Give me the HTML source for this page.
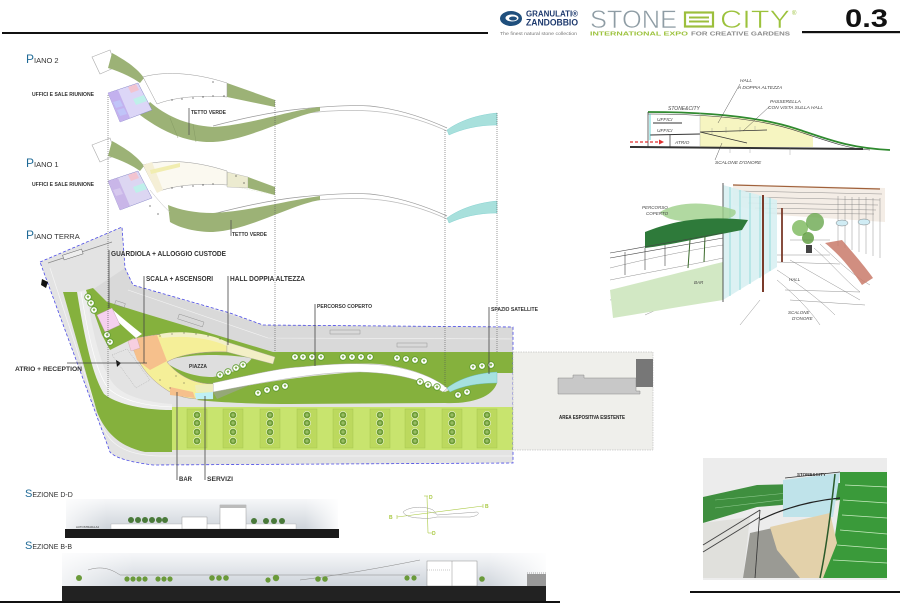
<!DOCTYPE html>
<html><head><meta charset="utf-8"><style>
html,body{margin:0;padding:0;background:#fff;}
svg{display:block;}
text{font-family:"Liberation Sans",Arial,sans-serif;}
</style></head><body>
<svg width="900" height="604" viewBox="0 0 900 604" xmlns="http://www.w3.org/2000/svg">
<defs>
<linearGradient id="sky" x1="0" y1="0" x2="0" y2="1"><stop offset="0" stop-color="#f6f7f9"/><stop offset="1" stop-color="#cdd3da"/></linearGradient>
<linearGradient id="fadeR" x1="0" y1="0" x2="1" y2="0"><stop offset="0" stop-color="#fff" stop-opacity="0.7"/><stop offset="0.15" stop-color="#fff" stop-opacity="0"/><stop offset="0.88" stop-color="#fff" stop-opacity="0"/><stop offset="1" stop-color="#fff" stop-opacity="0.9"/></linearGradient>
<symbol id="tr" viewBox="-4 -4 8 8"><circle r="3.3" fill="#fff" stroke="#5e9a2e" stroke-width="0.8"/><path d="M-1.5,-0.5 L0,-1.8 L1.5,-0.5 L0,1.5 Z" fill="#7fb04a"/></symbol>
<symbol id="pt" viewBox="-4 -4 8 8"><circle r="3.6" fill="#6c9c34" stroke="#eef7d8" stroke-width="0.6"/><path d="M-2,0 L2,0 M0,-2 L0,2" stroke="#cfe6a0" stroke-width="0.5"/></symbol>
</defs>

<!-- HEADER -->
<rect x="2" y="32" width="486" height="2" fill="#111"/>
<ellipse cx="511" cy="18.5" rx="11" ry="7.5" fill="#1f4f7d"/>
<ellipse cx="512" cy="18" rx="6.5" ry="3.5" fill="#fff"/>
<ellipse cx="513" cy="18.5" rx="4" ry="2" fill="#1f4f7d"/>
<text x="526" y="16.5" font-size="8" font-weight="bold" fill="#1e3a6e" textLength="52" lengthAdjust="spacingAndGlyphs">GRANULATI®</text>
<text x="526" y="25.5" font-size="9" font-weight="bold" fill="#1e3a6e" textLength="52" lengthAdjust="spacingAndGlyphs">ZANDOBBIO</text>
<text x="500" y="35" font-size="4.5" fill="#777" textLength="77" lengthAdjust="spacingAndGlyphs">The finest natural stone collection</text>
<text x="590" y="28" font-size="25" fill="#8e9ca4" stroke="#fff" stroke-width="0.6" textLength="87" lengthAdjust="spacingAndGlyphs">STONE</text>
<rect x="685" y="12.5" width="28" height="14" fill="none" stroke="#9cbf3c" stroke-width="2.2"/>
<rect x="689" y="16.5" width="20" height="2" fill="#9cbf3c"/>
<rect x="689" y="20.5" width="20" height="2" fill="#9cbf3c"/>
<text x="720" y="28" font-size="25" fill="#9cc23c" stroke="#fff" stroke-width="0.6" textLength="70" lengthAdjust="spacingAndGlyphs">CITY</text>
<text x="792" y="15" font-size="6" fill="#9cc23c">®</text>
<text x="590" y="35.5" font-size="5.2" font-weight="bold" fill="#9cc23c" textLength="98" lengthAdjust="spacingAndGlyphs">INTERNATIONAL EXPO</text>
<text x="691" y="35.5" font-size="5.2" font-weight="bold" fill="#8a8a8a" textLength="99" lengthAdjust="spacingAndGlyphs">FOR CREATIVE GARDENS</text>
<text x="845" y="27" font-size="25" font-weight="bold" fill="#111" textLength="43" lengthAdjust="spacingAndGlyphs">0.3</text>
<rect x="802" y="31" width="98" height="2.2" fill="#111"/>

<!-- LABELS PIANI -->
<text x="26" y="63" fill="#333"><tspan font-size="12" fill="#1f6a96">P</tspan><tspan font-size="7.5">IANO 2</tspan></text>
<text x="26" y="167" fill="#333"><tspan font-size="12" fill="#1f6a96">P</tspan><tspan font-size="7.5">IANO 1</tspan></text>
<text x="26" y="239" fill="#333"><tspan font-size="12" fill="#1f6a96">P</tspan><tspan font-size="7.5">IANO TERRA</tspan></text>
<text x="32" y="96" font-size="5.2" font-weight="bold" fill="#333" textLength="62" lengthAdjust="spacingAndGlyphs">UFFICI E SALE RIUNIONE</text>
<text x="32" y="186" font-size="5.2" font-weight="bold" fill="#333" textLength="62" lengthAdjust="spacingAndGlyphs">UFFICI E SALE RIUNIONE</text>

<!-- PIANO 2 -->
<g id="p2">
<polygon points="92,57 110,50 116,67 100,74" fill="#fff" stroke="#aaa" stroke-width="0.6"/>
<path d="M112,53 C125,60 137,68 144,78 L140,83 C130,76 118,71 108,68 Z" fill="#9cb276"/>
<path d="M213,126 C240,119 270,112 300,109 C330,106 355,105 370,106 C400,109 425,118 447,128" fill="none" stroke="#999" stroke-width="0.7"/>
<path d="M213,133 C250,125 280,117 300,114 C330,110 355,110 370,111 C400,113 425,121 447,131" fill="none" stroke="#bbb" stroke-width="0.7"/>
<path d="M447,130 C458,122 475,115 497,113 L497,125 C478,125 462,129 449,135 Z" fill="#a8e0dc" stroke="#7cc" stroke-width="0.4"/>
<polygon points="227,83 275,100 275,107 227,97" fill="#9cb276"/>
</g>
<path d="M143,77 C160,72 190,71 227,83 L227,97 C200,95 175,97 157,104 Z" fill="#fff" stroke="#999" stroke-width="0.5"/>
<path d="M150,102 C165,115 185,125 213,127 C250,125 290,110 320,107 L320,111 C290,116 250,140 213,142 C185,143 160,130 140,115 Z" fill="#9cb276"/>
<path d="M170,118 L178,138 M193,124 L196,142" stroke="#7f9660" stroke-width="0.4"/>
<polygon points="108,93 138,83 152,110 120,122" fill="#dcd6f7" stroke="#8a8ac8" stroke-width="0.5"/>
<polygon points="108,93 118,90 130,118 120,122" fill="#c3b1ee"/>
<polygon points="128,87 136,84 139,90 131,93" fill="#f2c4d0"/>
<polygon points="133,99 144,95 147,101 136,105" fill="#bff0ea"/>
<polygon points="113,102 120,100 123,106 116,108" fill="#c0c4f8"/>
<polygon points="117,110 124,108 127,114 120,116" fill="#c0c4f8"/>
<g fill="#333"><circle cx="172" cy="100" r="0.6"/><circle cx="182" cy="99" r="0.6"/><circle cx="193" cy="98" r="0.6"/><circle cx="203" cy="97" r="0.6"/><circle cx="213" cy="96" r="0.6"/><circle cx="224" cy="96" r="0.6"/><circle cx="213" cy="82" r="0.6"/></g>
<line x1="189" y1="108" x2="189" y2="135" stroke="#555" stroke-width="0.8"/>
<text x="191" y="114" font-size="5.2" font-weight="bold" fill="#333" textLength="35" lengthAdjust="spacingAndGlyphs">TETTO VERDE</text>

<!-- PIANO 1 -->
<use href="#p2" transform="translate(0,88)"/>
<polygon points="227,170 275,188 275,195 227,185" fill="#fff"/>
<polygon points="227,172 248,177 248,188 227,187" fill="#ecebd0" stroke="#aaa" stroke-width="0.4"/>
<polygon points="248,177 275,187 275,195 248,188" fill="#9cb276"/>
<path d="M143,165 C160,160 190,159 227,171 L227,185 C200,183 175,185 157,192 Z" fill="#fbf9f0" stroke="#999" stroke-width="0.5"/>
<polygon points="143,165 152,162 163,190 157,193" fill="#f5efd6"/>
<polygon points="150,170 180,163 180,167 151,174" fill="#f1edb0"/>
<path d="M168,205 C180,210 195,213 213,213 C250,211 290,200 320,196 L320,200 C290,205 250,230 213,232 C195,232 180,228 170,222 Z" fill="#9cb276"/>
<path d="M150,190 C158,200 165,208 170,212" fill="none" stroke="#bbb" stroke-width="0.5"/>
<polygon points="108,181 138,171 152,198 120,210" fill="#dcd6f2" stroke="#8a8ac8" stroke-width="0.5"/>
<polygon points="108,181 118,178 130,206 120,210" fill="#c9b6e8"/>
<polygon points="128,175 136,172 139,178 131,181" fill="#f2c4d0"/>
<polygon points="133,187 144,183 147,189 136,193" fill="#bff0ea"/>
<polygon points="113,190 120,188 123,194 116,196" fill="#d6c8ee"/>
<g fill="#333"><circle cx="172" cy="188" r="0.6"/><circle cx="182" cy="187" r="0.6"/><circle cx="193" cy="186" r="0.6"/><circle cx="203" cy="185" r="0.6"/><circle cx="213" cy="184" r="0.6"/><circle cx="150" cy="206" r="0.6"/><circle cx="158" cy="214" r="0.6"/><circle cx="236" cy="176" r="0.6"/><circle cx="244" cy="183" r="0.6"/></g>
<line x1="231" y1="220" x2="231" y2="236" stroke="#555" stroke-width="0.8"/>
<text x="232" y="236" font-size="5.2" font-weight="bold" fill="#333" textLength="35" lengthAdjust="spacingAndGlyphs">TETTO VERDE</text>

<!-- PIANO TERRA -->
<path d="M40,262 L122,227 L125,268 L133,285 L230,313 L263,325 L513,327 L513,463 L153,465 C130,462 115,458 110,452 Z" fill="#e3e3e3"/>
<path d="M125,268 L133,285 L263,325 L513,327 L513,352 L273,352 L143,313 L100,300 L92,290 Z" fill="#d9d9d9"/>
<path d="M128,290 L268,338 L513,339" fill="none" stroke="#f4f4f4" stroke-width="0.6"/>
<path d="M50,268 L100,420 C108,445 125,455 160,456 L512,456" fill="none" stroke="#f5f5f5" stroke-width="0.7"/>
<path d="M48,263 L112,242" stroke="#888" stroke-width="0.7"/>
<rect x="63" y="252" width="20" height="5" fill="#eee" stroke="#666" stroke-width="0.5" transform="rotate(-18 73 255)"/>
<!-- inner curved road (lighter) -->
<path d="M77,292 L86,290 C92,330 100,365 112,382 C122,396 145,402 172,404 L172,410 C145,410 118,405 104,394 C92,375 84,335 77,292 Z" fill="#ececec"/>
<path d="M81,292 C88,335 96,372 108,388 C120,400 145,406 172,407" fill="none" stroke="#fff" stroke-width="0.6"/>
<!-- left green -->
<path d="M63,292 L77,292 C84,335 92,375 104,394 C118,405 145,410 172,410 L172,452 L145,452 C120,447 105,432 97,412 Z" fill="#85b13d"/>
<!-- upper green -->
<path d="M95,298 L143,313 L273,352 L513,352 L513,373 L497,373 C475,376 460,382 447,388 C430,375 410,368 380,364 C340,362 300,366 213,384 L190,384 L140,345 Z" fill="#85b13d"/>
<!-- guardiola area -->
<path d="M86,290 L93,288 L112,307 L140,335 L110,350 L102,335 Z" fill="#85b13d"/>
<path d="M112,309 C122,318 132,326 142,334 L136,338 C127,330 118,322 110,314 Z" fill="#fff"/>
<polygon points="97,315 112,308 120,325 105,332" fill="#f5d0ef" stroke="#b9a" stroke-width="0.4"/>
<!-- lower green -->
<path d="M213,392 C260,383 300,376 360,372 C400,372 425,380 445,392 C460,385 475,383 497,383 C492,398 470,404 445,403 L290,404 C250,404 215,402 197,400 Z" fill="#85b13d"/>
<polygon points="213,392 257,382 217,399" fill="#95a878"/>
<!-- white path -->
<path d="M213,383 C250,375 280,368 300,367 C330,364 360,362 390,366 C415,370 435,378 447,388 L443,392 C425,381 400,373 360,372 C330,372 300,375 213,392 Z" fill="#fff" stroke="#aaa" stroke-width="0.4"/>
<path d="M447,388 C460,378 478,373 497,372 L497,383 C478,383 462,386 450,392 Z" fill="#a6e1e0" stroke="#6bb" stroke-width="0.4"/>
<!-- piazza -->
<path d="M165,362 C180,354 220,353 252,358 C245,368 230,374 213,377 C195,377 180,372 165,362 Z" fill="#dedede"/>
<!-- building -->
<path d="M227,342 C205,334 175,330 137,338 L132,345 C138,365 150,380 170,392 C180,397 190,400 213,399 L213,384 C195,384 178,376 167,362 C180,354 205,351 227,352 Z" fill="#f5ef98" stroke="#a99" stroke-width="0.5"/>
<path d="M160,334 C180,330 210,333 227,342 L227,346 C210,338 185,335 162,338 Z" fill="#f3f0c8"/>
<polygon points="137,338 157,335 167,361 150,370 137,360 132,345" fill="#f6c08c"/>
<polygon points="128,341 137,338 140,348 131,351" fill="#f7cfe0" stroke="#b99" stroke-width="0.3"/>
<polygon points="227,342 275,357 273,364 227,352" fill="#f3efc6" stroke="#aa9" stroke-width="0.4"/>
<polygon points="170,387 193,392 195,398 170,395" fill="#f6c08c"/>
<polygon points="195,385 213,384 213,392 196,392" fill="#eeedbb"/>
<polygon points="195,393 213,392 213,399 196,399" fill="#bff0f4"/>
<g fill="#333"><circle cx="160" cy="336" r="0.5"/><circle cx="172" cy="334" r="0.5"/><circle cx="184" cy="333" r="0.5"/><circle cx="196" cy="334" r="0.5"/><circle cx="208" cy="336" r="0.5"/><circle cx="220" cy="339" r="0.5"/><circle cx="176" cy="376" r="0.5"/><circle cx="184" cy="383" r="0.5"/><circle cx="160" cy="380" r="0.5"/><circle cx="170" cy="388" r="0.5"/></g>
<polygon points="112,355 127,349 150,380 136,388" fill="none" stroke="#999" stroke-width="0.4" stroke-dasharray="1,1"/>
<!-- bus stalls -->
<g fill="none" stroke="#888" stroke-width="0.4">
<rect x="178" y="318" width="26" height="5" transform="rotate(18 191 320)"/>
<rect x="330" y="330" width="30" height="4"/>
<rect x="397" y="343" width="30" height="4"/>
<rect x="115" y="302" width="10" height="4" transform="rotate(18 120 304)"/>
</g>
<!-- parking -->
<rect x="172" y="407" width="341" height="43" fill="#c8e46e"/>
<g fill="#bcd95e" stroke="#a0c04c" stroke-width="0.4">
<rect x="187" y="409" width="20" height="39"/><rect x="223" y="409" width="20" height="39"/><rect x="260" y="409" width="20" height="39"/><rect x="297" y="409" width="20" height="39"/><rect x="333" y="409" width="20" height="39"/><rect x="370" y="409" width="20" height="39"/><rect x="405" y="409" width="20" height="39"/><rect x="442" y="409" width="20" height="39"/><rect x="477" y="409" width="20" height="39"/>
</g>
<g>
<use href="#pt" x="193" y="411" width="8" height="8"/><use href="#pt" x="193" y="419" width="8" height="8"/><use href="#pt" x="193" y="428" width="8" height="8"/><use href="#pt" x="193" y="437" width="8" height="8"/>
<use href="#pt" x="229" y="411" width="8" height="8"/><use href="#pt" x="229" y="419" width="8" height="8"/><use href="#pt" x="229" y="428" width="8" height="8"/><use href="#pt" x="229" y="437" width="8" height="8"/>
<use href="#pt" x="266" y="411" width="8" height="8"/><use href="#pt" x="266" y="419" width="8" height="8"/><use href="#pt" x="266" y="428" width="8" height="8"/><use href="#pt" x="266" y="437" width="8" height="8"/>
<use href="#pt" x="303" y="411" width="8" height="8"/><use href="#pt" x="303" y="419" width="8" height="8"/><use href="#pt" x="303" y="428" width="8" height="8"/><use href="#pt" x="303" y="437" width="8" height="8"/>
<use href="#pt" x="339" y="411" width="8" height="8"/><use href="#pt" x="339" y="419" width="8" height="8"/><use href="#pt" x="339" y="428" width="8" height="8"/><use href="#pt" x="339" y="437" width="8" height="8"/>
<use href="#pt" x="376" y="411" width="8" height="8"/><use href="#pt" x="376" y="419" width="8" height="8"/><use href="#pt" x="376" y="428" width="8" height="8"/><use href="#pt" x="376" y="437" width="8" height="8"/>
<use href="#pt" x="411" y="411" width="8" height="8"/><use href="#pt" x="411" y="419" width="8" height="8"/><use href="#pt" x="411" y="428" width="8" height="8"/><use href="#pt" x="411" y="437" width="8" height="8"/>
<use href="#pt" x="448" y="411" width="8" height="8"/><use href="#pt" x="448" y="419" width="8" height="8"/><use href="#pt" x="448" y="428" width="8" height="8"/><use href="#pt" x="448" y="437" width="8" height="8"/>
<use href="#pt" x="483" y="411" width="8" height="8"/><use href="#pt" x="483" y="419" width="8" height="8"/><use href="#pt" x="483" y="428" width="8" height="8"/><use href="#pt" x="483" y="437" width="8" height="8"/>
</g>
<!-- trees in greens -->
<g>
<use href="#tr" x="291" y="353" width="8" height="8"/><use href="#tr" x="299" y="353" width="8" height="8"/><use href="#tr" x="308" y="353" width="8" height="8"/><use href="#tr" x="317" y="353" width="8" height="8"/>
<use href="#tr" x="339" y="353" width="8" height="8"/><use href="#tr" x="348" y="353" width="8" height="8"/><use href="#tr" x="357" y="353" width="8" height="8"/><use href="#tr" x="366" y="353" width="8" height="8"/>
<use href="#tr" x="393" y="354" width="8" height="8"/><use href="#tr" x="402" y="355" width="8" height="8"/><use href="#tr" x="411" y="356" width="8" height="8"/><use href="#tr" x="420" y="357" width="8" height="8"/>
<use href="#tr" x="469" y="363" width="8" height="8"/><use href="#tr" x="478" y="362" width="8" height="8"/><use href="#tr" x="487" y="361" width="8" height="8"/>
<use href="#tr" x="216" y="371" width="8" height="8"/><use href="#tr" x="224" y="368" width="8" height="8"/><use href="#tr" x="232" y="364" width="8" height="8"/><use href="#tr" x="239" y="361" width="8" height="8"/>
<use href="#tr" x="254" y="389" width="8" height="8"/><use href="#tr" x="263" y="386" width="8" height="8"/><use href="#tr" x="272" y="384" width="8" height="8"/><use href="#tr" x="281" y="382" width="8" height="8"/>
<use href="#tr" x="416" y="378" width="8" height="8"/><use href="#tr" x="424" y="381" width="8" height="8"/><use href="#tr" x="433" y="383" width="8" height="8"/>
<use href="#tr" x="454" y="391" width="8" height="8"/><use href="#tr" x="463" y="388" width="8" height="8"/>
<use href="#tr" x="84" y="293" width="8" height="8"/><use href="#tr" x="87" y="299" width="8" height="8"/><use href="#tr" x="90" y="306" width="8" height="8"/>
<use href="#tr" x="103" y="331" width="8" height="8"/><use href="#tr" x="106" y="338" width="8" height="8"/>
</g>
<!-- boundary -->
<path d="M40,262 L122,227 L125,268 L133,285 L230,313 L263,325 L513,327 L513,463 L153,465 C130,462 115,458 110,452 Z" fill="none" stroke="#4a4ae6" stroke-width="0.8" stroke-dasharray="3,2"/>
<path d="M42,279 L48,282 L46,288 L41,285 Z" fill="#111"/>
<path d="M116,360 L121,363 L117,367 Z" fill="#111"/>
<path d="M514,373 L519,376 L514,379 Z" fill="#111"/>

<!-- AREA ESPOSITIVA -->
<rect x="513" y="352" width="140" height="98" fill="#efefeb" stroke="#aaa" stroke-width="0.5" stroke-dasharray="1.5,1"/>
<polygon points="558,378 573,378 573,375 584,375 584,378 636,378 636,391 640,391 640,394 558,394" fill="#c8c8c8" stroke="#888" stroke-width="0.5"/>
<rect x="636" y="359" width="17" height="28" fill="#777"/>
<text x="559" y="419" font-size="5" font-weight="bold" fill="#222" textLength="66" lengthAdjust="spacingAndGlyphs">AREA ESPOSITIVA ESISTENTE</text>

<!-- DOTTED VERTICALS -->
<g stroke="#555" stroke-width="0.6" stroke-dasharray="1,1">
<line x1="108" y1="95" x2="108" y2="398"/>
<line x1="275" y1="100" x2="275" y2="352"/>
<line x1="445" y1="130" x2="445" y2="388"/>
<line x1="497" y1="113" x2="497" y2="352"/>
</g>

<!-- PLAN LABELS -->
<g stroke="#444" stroke-width="0.8">
<line x1="109" y1="250" x2="109" y2="308"/>
<line x1="144" y1="276" x2="144" y2="363"/>
<line x1="228" y1="276" x2="228" y2="345"/>
<line x1="315" y1="304" x2="315" y2="366"/>
<line x1="489" y1="307" x2="489" y2="374"/>
<line x1="67" y1="363" x2="147" y2="363"/>
<line x1="177" y1="392" x2="177" y2="480"/>
<line x1="205" y1="396" x2="205" y2="480"/>
</g>
<g font-weight="bold" fill="#333">
<text x="111" y="256" font-size="7" textLength="115" lengthAdjust="spacingAndGlyphs">GUARDIOLA + ALLOGGIO CUSTODE</text>
<text x="146" y="281" font-size="7" textLength="67" lengthAdjust="spacingAndGlyphs">SCALA + ASCENSORI</text>
<text x="230" y="281" font-size="7" textLength="75" lengthAdjust="spacingAndGlyphs">HALL DOPPIA ALTEZZA</text>
<text x="317" y="308" font-size="5.5" textLength="55" lengthAdjust="spacingAndGlyphs">PERCORSO COPERTO</text>
<text x="491" y="311" font-size="5.5" textLength="47" lengthAdjust="spacingAndGlyphs">SPAZIO SATELLITE</text>
<text x="15" y="371" font-size="6.5" textLength="67" lengthAdjust="spacingAndGlyphs">ATRIO + RECEPTION</text>
<text x="189" y="368" font-size="5.5" textLength="18" lengthAdjust="spacingAndGlyphs">PIAZZA</text>
<text x="179" y="481" font-size="6.5" textLength="13" lengthAdjust="spacingAndGlyphs">BAR</text>
<text x="207" y="481" font-size="6.5" textLength="26" lengthAdjust="spacingAndGlyphs">SERVIZI</text>
</g>

<!-- SKETCH 1 (section) -->
<g>
<path d="M700,115 L750,118 L800,130 L813,136 L813,147 L700,147 Z" fill="#f5f3b6" opacity="0.85"/>
<path d="M648,112 C700,112 760,116 800,130 C830,140 850,148 890,150" stroke="#2f8a2f" stroke-width="1.8" fill="none"/>
<path d="M648,114 C700,114 760,118 800,132 C830,142 850,149 870,150" stroke="#333" stroke-width="0.6" fill="none"/>
<line x1="630" y1="147" x2="863" y2="149" stroke="#333" stroke-width="2"/>
<g stroke="#333" stroke-width="0.7" fill="none">
<line x1="648" y1="112" x2="648" y2="147"/>
<line x1="653" y1="123" x2="682" y2="123" stroke-width="1"/>
<line x1="650" y1="135" x2="700" y2="134" stroke-width="1"/>
<line x1="670" y1="135" x2="670" y2="147"/>
<line x1="700" y1="132" x2="767" y2="130"/>
<line x1="700" y1="132" x2="747" y2="143"/>
<line x1="740" y1="84" x2="718" y2="123" stroke-width="0.4"/>
<line x1="770" y1="106" x2="743" y2="131" stroke-width="0.4"/>
<line x1="715" y1="160" x2="722" y2="143" stroke-width="0.4"/>
</g>
<g stroke="#777" stroke-width="0.3"><line x1="712" y1="128" x2="712" y2="134"/><line x1="726" y1="127" x2="726" y2="133"/><line x1="740" y1="127" x2="740" y2="132"/><line x1="755" y1="126" x2="755" y2="131"/><line x1="730" y1="148" x2="730" y2="153"/><line x1="750" y1="148" x2="750" y2="153"/><line x1="790" y1="148" x2="790" y2="155"/></g>
<line x1="700" y1="113" x2="700" y2="147" stroke="#aaa" stroke-width="0.4"/>
<line x1="650" y1="114" x2="650" y2="140" stroke="#4cc" stroke-width="0.8"/>
<line x1="630" y1="142" x2="660" y2="142" stroke="#e03030" stroke-width="1.2" stroke-dasharray="3,2"/>
<path d="M659,139.5 L664,142 L659,144.5 Z" fill="#e03030"/>
<g font-size="4.8" fill="#444" font-style="italic">
<text x="740" y="82">HALL</text>
<text x="738" y="89">A DOPPIA ALTEZZA</text>
<text x="770" y="103">PASSERELLA</text>
<text x="768" y="109">CON VISTA SULLA HALL</text>
<text x="668" y="110" font-size="5">STONE&amp;CITY</text>
<text x="657" y="121">UFFICI</text>
<text x="657" y="132">UFFICI</text>
<text x="675" y="144">ATRIO</text>
<text x="715" y="164">SCALONE D'ONORE</text>
</g>
</g>

<!-- SKETCH 2 (perspective) -->
<g>
<path d="M733,184 L885,188 L885,222 L777,215 L733,205 Z" fill="#f4ede6"/>
<g stroke="#777" stroke-width="0.4" fill="none">
<path d="M738,191 L882,194 M742,197 L880,200 M748,203 L878,205 M755,208 L876,210 M765,213 L874,214"/>
<path d="M838,196 L838,246 M845,196 L845,248 M852,197 L852,250 M859,197 L859,252 M866,197 L866,254 M873,198 L873,256 M880,198 L880,258"/>
<path d="M610,268 C650,258 690,250 723,245 M777,270 C800,285 820,300 835,315 M777,280 C795,295 810,310 820,325 M790,260 L860,300 M760,300 L740,325 M645,315 L700,290"/>
<path d="M820,244 C835,258 852,275 870,285 M814,248 C830,262 845,280 860,292"/>
<path d="M777,255 L830,255 M777,262 L840,264 M785,290 L860,292 M790,300 L865,305 M790,240 L830,240"/>
<path d="M610,280 C650,272 690,265 723,258 M610,300 C640,296 680,290 700,285"/>
</g>
<path d="M733,185 L880,189" stroke="#a0603a" stroke-width="1.2"/>
<path d="M610,290 C650,280 690,270 723,262 L723,300 C690,305 650,312 613,318 Z" fill="#d2e8c4"/>
<path d="M723,185 L777,200 L777,267 L723,300 Z" fill="#d8f0f2" opacity="0.9"/>
<g stroke="#6cc" stroke-width="0.6"><line x1="730" y1="187" x2="730" y2="296"/><line x1="740" y1="190" x2="740" y2="290"/><line x1="750" y1="193" x2="750" y2="284"/><line x1="760" y1="196" x2="760" y2="278"/><line x1="770" y1="198" x2="770" y2="271"/></g>
<line x1="723" y1="183" x2="723" y2="302" stroke="#333" stroke-width="0.8"/>
<line x1="763" y1="195" x2="763" y2="292" stroke="#7a3a2a" stroke-width="2"/>
<line x1="782" y1="208" x2="782" y2="262" stroke="#7a3a2a" stroke-width="1.8"/>
<path d="M660,212 C680,200 710,202 735,210 C740,218 720,222 700,221 C680,222 665,220 660,212 Z" fill="#9ed08a" opacity="0.8"/>
<path d="M645,232 C670,222 700,215 748,220 L742,230 C700,238 670,245 645,248 Z" fill="#2e7a3a"/>
<path d="M690,240 L688,268 M705,236 L704,262" stroke="#3a6a2a" stroke-width="1"/>
<g stroke="#444" stroke-width="0.6"><line x1="610" y1="253" x2="723" y2="233"/><line x1="610" y1="258" x2="723" y2="238"/><line x1="625" y1="252" x2="625" y2="275"/><line x1="645" y1="248" x2="645" y2="270"/><line x1="665" y1="245" x2="665" y2="266"/></g>
<path d="M825,243 L842,240 C855,255 866,268 873,278 L862,285 C852,270 840,255 825,243 Z" fill="#c97a6a" opacity="0.85"/>
<circle cx="800" cy="228" r="8" fill="#7ab85a" opacity="0.8"/><circle cx="815" cy="222" r="9" fill="#6aa84f" opacity="0.8"/><circle cx="808" cy="238" r="6" fill="#5a9a3a" opacity="0.8"/>
<rect x="806" y="245" width="6" height="8" fill="#444"/>
<ellipse cx="842" cy="223" rx="6" ry="3" fill="#d0ecf4" stroke="#666" stroke-width="0.4"/>
<ellipse cx="864" cy="222" rx="6" ry="3" fill="#d0ecf4" stroke="#666" stroke-width="0.4"/>
<g font-size="4.5" fill="#444" font-style="italic">
<text x="642" y="209">PERCORSO</text><text x="646" y="215">COPERTO</text>
<text x="694" y="284">BAR</text><text x="789" y="281">HALL</text>
<text x="788" y="314">SCALONE</text><text x="792" y="320">D'ONORE</text>
</g>
</g>

<!-- RENDER bottom right -->
<rect x="703" y="458" width="184" height="122" fill="#ececec"/>
<path d="M703,497 L757,485 L840,483 L840,500 L757,507 L703,523 Z" fill="#3f8f3f"/>
<path d="M715,500 L830,489 M715,508 L830,494" stroke="#8cc88c" stroke-width="0.6"/>
<path d="M783,480 L840,473 L833,517 L783,517 Z" fill="#bfe3ea"/>
<path d="M840,472 L887,472 L887,578 L823,578 L833,550 L840,500 Z" fill="#3a9a3a"/>
<g stroke="#c8ecc0" stroke-width="0.7"><line x1="845" y1="485" x2="887" y2="487"/><line x1="843" y1="500" x2="887" y2="503"/><line x1="842" y1="515" x2="887" y2="518"/><line x1="840" y1="530" x2="887" y2="534"/><line x1="837" y1="545" x2="887" y2="549"/><line x1="833" y1="560" x2="887" y2="563"/></g>
<path d="M703,523 L750,517 L743,578 L703,578 Z" fill="#e0e0dc"/>
<path d="M750,533 L777,527 L800,578 L743,578 Z" fill="#9a9a94"/>
<path d="M770,527 L830,513 L837,543 L823,578 L800,578 L777,550 Z" fill="#e3d1aa"/>
<path d="M760,520 C790,505 820,500 840,498" stroke="#222" stroke-width="1.2" fill="none"/>
<path d="M703,545 L760,510 M703,552 L760,517" stroke="#444" stroke-width="1"/>
<path d="M760,510 L755,578" stroke="#333" stroke-width="0.8"/>
<path d="M835,474 C830,520 825,555 820,578" stroke="#2a5a2a" stroke-width="1.5" fill="none"/>
<line x1="785" y1="478" x2="840" y2="472" stroke="#333" stroke-width="0.8"/>
<text x="797" y="476" font-size="4.5" font-weight="bold" fill="#333">STONE&amp;CITY</text>
<rect x="690" y="591" width="210" height="2" fill="#111"/>

<!-- SECTIONS -->
<!-- D-D -->
<rect x="66" y="499" width="272" height="31" fill="url(#sky)"/>
<rect x="66" y="499" width="272" height="31" fill="url(#fadeR)"/>
<rect x="111" y="524" width="185" height="5" fill="#fff" stroke="#999" stroke-width="0.3"/>
<rect x="182" y="517" width="25" height="12" fill="#fff" stroke="#888" stroke-width="0.4"/>
<rect x="220" y="505" width="26" height="24" fill="#fff" stroke="#888" stroke-width="0.4"/>
<rect x="220" y="505" width="26" height="3" fill="#bbb"/>
<g fill="#4a7a3a"><circle cx="131" cy="520" r="3"/><circle cx="138" cy="520" r="3"/><circle cx="145" cy="520" r="3"/><circle cx="152" cy="520" r="3"/><circle cx="159" cy="520" r="3"/><circle cx="165" cy="520" r="3"/><circle cx="254" cy="521" r="3"/><circle cx="266" cy="521" r="3"/><circle cx="274" cy="521" r="3"/><circle cx="282" cy="521" r="3"/></g>
<text x="76" y="528" font-size="2.8" fill="#333">AUTOSTRADA A4</text>
<rect x="65" y="529" width="274" height="9" fill="#1a1a1a"/>
<!-- B-B -->
<rect x="62" y="553" width="484" height="34" fill="url(#sky)"/>
<rect x="62" y="553" width="484" height="34" fill="url(#fadeR)"/>
<path d="M88,570 C100,566 110,568 120,575 L420,575" stroke="#888" stroke-width="0.5" fill="none"/>
<path d="M300,580 C340,575 380,568 420,560" stroke="#888" stroke-width="0.5" fill="none"/>
<rect x="427" y="561" width="50" height="25" fill="#fff" stroke="#777" stroke-width="0.4"/>
<line x1="427" y1="570" x2="450" y2="570" stroke="#777" stroke-width="0.4" stroke-dasharray="1,1"/>
<line x1="452" y1="561" x2="452" y2="586" stroke="#777" stroke-width="0.4"/>
<rect x="527" y="574" width="19" height="14" fill="#999"/>
<line x1="527" y1="573" x2="546" y2="573" stroke="#555" stroke-width="0.5" stroke-dasharray="1,1"/>
<g fill="#6a9a3a"><circle cx="79" cy="578" r="3"/><circle cx="127" cy="579" r="2.6"/><circle cx="133" cy="579" r="2.6"/><circle cx="139" cy="579" r="2.6"/><circle cx="145" cy="579" r="2.6"/><circle cx="158" cy="579" r="2.6"/><circle cx="164" cy="579" r="2.6"/><circle cx="170" cy="579" r="2.6"/><circle cx="212" cy="578" r="2.8"/><circle cx="219" cy="578" r="2.8"/><circle cx="226" cy="578" r="2.8"/><circle cx="268" cy="580" r="2.6"/><circle cx="276" cy="578" r="3.2"/><circle cx="318" cy="579" r="2.8"/><circle cx="325" cy="579" r="2.8"/><circle cx="407" cy="578" r="2.6"/><circle cx="414" cy="578" r="2.6"/><circle cx="482" cy="579" r="2.8"/></g>
<rect x="62" y="586" width="484" height="15" fill="#222"/>
<rect x="0" y="601" width="560" height="2" fill="#111"/>
<text x="25" y="497" fill="#333"><tspan font-size="11" fill="#1f6a96">S</tspan><tspan font-size="7">EZIONE D-D</tspan></text>
<text x="25" y="549" fill="#333"><tspan font-size="11" fill="#1f6a96">S</tspan><tspan font-size="7">EZIONE B-B</tspan></text>
<!-- key -->
<g stroke="#a8c840" stroke-width="0.6" fill="none">
<line x1="397" y1="517" x2="483" y2="506"/><line x1="427" y1="496" x2="428" y2="533"/>
<line x1="397" y1="515" x2="397" y2="519"/><line x1="483" y1="504" x2="483" y2="508"/>
<line x1="424" y1="496" x2="428" y2="496"/><line x1="428" y1="533" x2="432" y2="533"/>
</g>
<path d="M403,512 C410,506 425,506 433,510 C436,513 437,515 437,515 C450,514 465,513 477,512 C480,513 478,516 470,517 L437,517 C432,518 427,519 420,518 C412,518 405,516 403,512 Z" fill="none" stroke="#999" stroke-width="0.5"/>
<path d="M410,513 C420,510 430,511 436,514" fill="none" stroke="#bbb" stroke-width="0.4"/>
<g font-size="5" font-weight="bold" fill="#a8c840">
<text x="389" y="519">B</text><text x="485" y="508">B</text><text x="429" y="499">D</text><text x="432" y="535">D</text>
</g>
</svg>
</body></html>
